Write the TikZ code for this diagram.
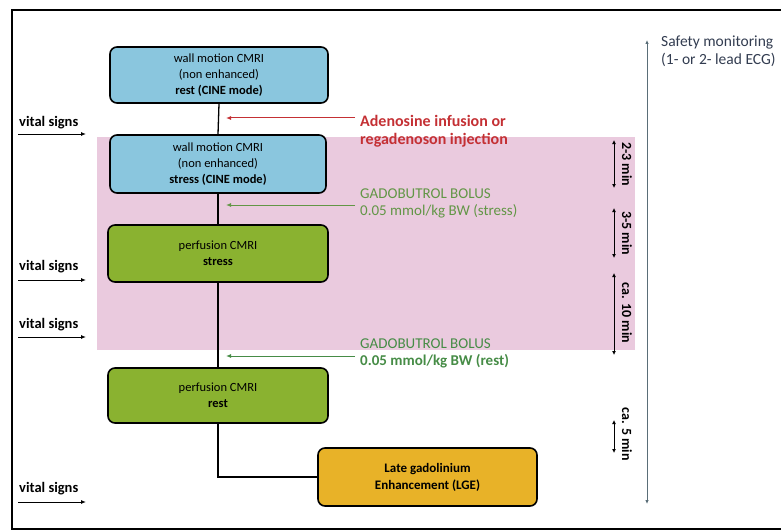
\documentclass[tikz,border=0pt]{standalone}
\usepackage{fontspec}
\setmainfont{Carlito}
\usetikzlibrary{arrows.meta}
\definecolor{boxblue}{RGB}{138,198,222}
\definecolor{boxgreen}{RGB}{138,178,48}
\definecolor{boxorange}{RGB}{232,178,40}
\definecolor{bandpink}{RGB}{234,202,222}
\definecolor{redtxt}{RGB}{196,48,52}
\definecolor{greentxt}{RGB}{98,150,70}
\definecolor{greendark}{RGB}{70,140,70}
\definecolor{safety}{RGB}{90,110,120}
\definecolor{safetytxt}{RGB}{50,60,80}
\tikzset{
  stagebox/.style={draw=black, line width=1.6pt, rounded corners=7pt, align=center,
    font=\fontsize{12.5}{16}\selectfont, inner sep=0pt},
  flowline/.style={line width=1.3pt, black},
  vitallabel/.style={font=\fontsize{14.5}{16}\selectfont\bfseries, anchor=west, inner sep=0pt},
  vitalarrow/.style={-{Latex[length=5pt,width=4pt]}, line width=0.9pt},
  injarrow/.style={-{Latex[length=5pt,width=4pt]}, line width=1pt},
  timearrow/.style={{Latex[length=4pt,width=4pt]}-{Latex[length=4pt,width=4pt]}, line width=0.9pt},
  timelabel/.style={font=\fontsize{14}{16}\selectfont\bfseries, rotate=-90, inner sep=0pt},
  sidetext/.style={font=\fontsize{15}{17}\selectfont, align=left, anchor=north west, inner sep=0pt}
}
\begin{document}
\begin{tikzpicture}[x=1pt,y=-1pt]
\useasboundingbox (0,0) rectangle (781,532);
% pink band
\fill[bandpink] (97,137) rectangle (635,350);
% frame
\draw[line width=1.8pt] (781,10) -- (12,10) -- (12,529) -- (781,529);
% boxes
\node[stagebox, fill=boxblue, minimum width=218pt, minimum height=56pt] (wmrest) at (219,75)
  {wall motion CMRI\\(non enhanced)\\\textbf{rest (CINE mode)}};
\node[stagebox, fill=boxblue, minimum width=216pt, minimum height=58pt] (wmstress) at (218,164)
  {wall motion CMRI\\(non enhanced)\\\textbf{stress (CINE mode)}};
\node[stagebox, fill=boxgreen, minimum width=220pt, minimum height=57pt] (pstress) at (218,253.5)
  {perfusion CMRI\\\textbf{stress}};
\node[stagebox, fill=boxgreen, minimum width=220pt, minimum height=55pt] (prest) at (218,395.5)
  {perfusion CMRI\\\textbf{rest}};
\node[stagebox, fill=boxorange, minimum width=219pt, minimum height=58pt,
  font=\fontsize{13}{17}\selectfont\bfseries] (lge) at (427.5,477)
  {Late gadolinium\\Enhancement (LGE)};
% flow lines
\draw[flowline] (wmrest.south) -- (wmstress.north);
\draw[flowline] (wmstress.south) -- (pstress.north);
\draw[flowline] (pstress.south) -- (prest.north);
\draw[flowline] (prest.south) |- (lge.west);
% injections
\coordinate (redstart) at (355,118);
\coordinate (redend) at (226,118);
\draw[injarrow, redtxt] (redstart) -- (redend);
\node[sidetext, font=\fontsize{16}{18}\selectfont\bfseries, text=redtxt] (adeno) at (360,115)
  {Adenosine infusion or\\regadenoson injection};
\coordinate (g1start) at (355,205);
\coordinate (g1end) at (226,205);
\draw[injarrow, greentxt] (g1start) -- (g1end);
\node[sidetext, text=greentxt] (gado1) at (360,189)
  {GADOBUTROL BOLUS\\0.05 mmol/kg BW (stress)};
\coordinate (g2start) at (355,356);
\coordinate (g2end) at (226,356);
\draw[injarrow, greendark] (g2start) -- (g2end);
\node[sidetext, text=greendark] (gado2) at (360,339)
  {GADOBUTROL BOLUS\\\textbf{0.05 mmol/kg BW (rest)}};
% vital signs
\foreach \ty/\ay/\nm in {123/134/v1, 267/280/v2, 325/337/v3, 489/502/v4}{
  \node[vitallabel] (\nm) at (19,\ty) {vital signs};
  \coordinate (\nm s) at (18,\ay);
  \coordinate (\nm e) at (86,\ay);
  \draw[vitalarrow] (\nm s) -- (\nm e);
}
% time intervals
\foreach \ya/\yb/\nm in {140/188/t1, 208/258/t2, 273/355/t3, 420/453/t4}{
  \coordinate (\nm a) at (614,\ya);
  \coordinate (\nm b) at (614,\yb);
  \draw[timearrow] (\nm a) -- (\nm b);
}
\node[timelabel] (l1) at (627,164) {2-3 min};
\node[timelabel] (l2) at (627,233) {3-5 min};
\node[timelabel] (l3) at (627,313) {ca. 10 min};
\node[timelabel] (l4) at (627,434) {ca. 5 min};
% safety monitoring
\coordinate (sa) at (647,40);
\coordinate (sb) at (647,504);
\draw[safety, line width=0.8pt, {Latex[length=4pt,width=3.5pt]}-{Latex[length=4pt,width=3.5pt]}] (sa) -- (sb);
\node[sidetext, font=\fontsize{15.5}{18}\selectfont, text=safetytxt] (safe) at (661,36)
  {Safety monitoring\\(1- or 2- lead ECG)};
\end{tikzpicture}
\end{document}
